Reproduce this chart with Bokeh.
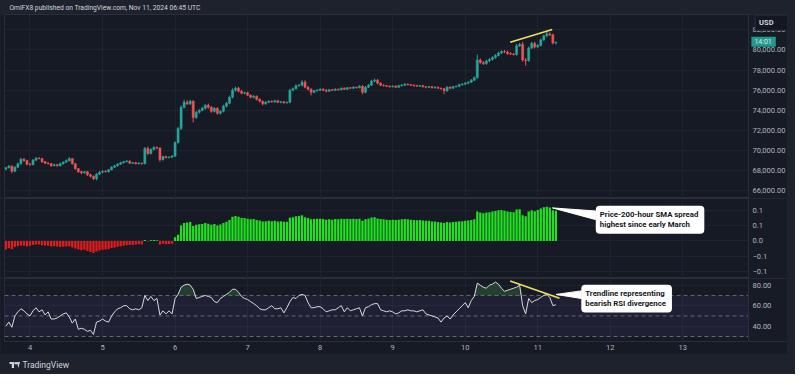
import numpy as np
from bokeh.plotting import figure
from bokeh.layouts import column
from bokeh.models import (Range1d, LinearAxis, FixedTicker, NumeralTickFormatter, Label,
                          BoxAnnotation, ColumnDataSource, Grid)
from bokeh.embed import file_html
from bokeh.resources import INLINE

# ---------------- data (hourly BTC/USD candles, Nov 3 16:00 UTC -> Nov 11 06:00 UTC) ----------------
first_candle_day = 3 + 16 / 24
first_open = 68150

close = [68300, 68450, 67950, 68350, 68700, 69150, 69000, 68650,
         68600, 69050, 69250, 69200, 68900, 68750, 68700, 68500, 68600, 68500, 68700, 68850,
         69000, 69200, 68700, 68200, 67900, 67800, 67900, 67600, 67450, 67200, 67650, 67850,
         67950, 67900, 68100, 68350, 68500, 68650, 68800, 68900, 68950, 68750, 68800, 68700,
         68750, 68700, 70200, 69700, 70100, 70300, 70250, 69100, 69400, 69300, 69350, 69450,
         70800, 72200, 74300, 74800, 74650, 74900, 73300, 73800, 74000, 74200, 74500, 74300,
         73900, 74200, 73700, 73900, 74400, 74700, 75300, 76000, 76200, 75900, 75700, 75750,
         75500, 75300, 75400, 75100, 74900, 74650, 74800, 74900, 74850, 74950, 74800, 74850,
         74750, 74800, 76000, 76150, 76450, 76500, 76800, 76300, 76100, 75800, 75950, 76000,
         76100, 76000, 75900, 76050, 76000, 76100, 76050, 76200, 76100, 76250, 76200, 76300,
         76250, 76400, 75800, 76300, 76500, 76900, 77000, 76700, 76500, 76450, 76400, 76350,
         76400, 76300, 76450, 76500, 76600, 76550, 76500, 76450, 76400, 76450, 76350, 76300,
         76350, 76250, 76300, 76200, 76150, 75950, 76300, 76200, 76350, 76400, 76550, 76600,
         76700, 76800, 77000, 77250, 79000, 78750, 78650, 78900, 79050, 79250, 79450, 79700,
         79850, 79800, 79650, 79600, 79550, 80400, 80550, 79000, 78950, 80200, 80650, 80300,
         80450, 81000, 81400, 81600, 81500, 80700, 80750]

upper_wick = [80, 120, 90, 100, 110, 130, 90, 80,
              100, 120, 90, 110, 80, 70, 90, 60, 80, 70, 100, 90, 120, 150, 80, 70, 60, 90, 80, 70, 110, 80, 100, 90,
              80, 90, 70, 100, 80, 110, 90, 80, 120, 90, 70, 80, 90, 60, 150, 200, 120, 140, 110, 80, 100, 90, 80, 120,
              120, 150, 180, 250, 200, 150, 120, 130, 110, 150, 120, 180, 130, 120, 110, 100, 150, 130, 160, 180, 150, 120, 110, 90,
              100, 90, 110, 80, 90, 70, 100, 80, 90, 110, 80, 90, 70, 80, 150, 120, 130, 110, 200, 180, 100, 90, 80, 100,
              90, 80, 100, 70, 80, 90, 60, 80, 90, 70, 80, 90, 60, 100, 80, 120, 110, 130, 150, 120, 90, 80, 70, 80,
              80, 70, 90, 100, 80, 60, 70, 80, 90, 70, 80, 60, 70, 80, 90, 70, 60, 80, 100, 90, 80, 70, 90, 100,
              100, 90, 110, 120, 550, 150, 130, 120, 140, 110, 130, 120, 100, 140, 130, 120, 110, 200, 150, 250, 180, 130, 140, 160,
              120, 150, 130, 200, 150, 120, 100]

lower_wick = [100, 80, 200, 90, 80, 100, 90, 110,
              90, 80, 100, 70, 120, 90, 80, 110, 70, 90, 80, 100, 70, 80, 100, 90, 120, 150, 100, 130, 110, 120, 150, 90,
              100, 80, 90, 70, 80, 90, 70, 100, 80, 90, 70, 80, 90, 100, 80, 120, 90, 80, 100, 200, 90, 80, 70, 100,
              80, 100, 150, 120, 130, 110, 500, 150, 120, 100, 110, 130, 150, 120, 140, 110, 100, 120, 90, 110, 130, 120, 100, 110,
              90, 100, 110, 120, 100, 150, 90, 80, 100, 90, 80, 100, 90, 80, 100, 90, 80, 100, 120, 110, 130, 300, 100, 90,
              80, 90, 100, 70, 80, 90, 100, 80, 70, 90, 80, 70, 90, 80, 200, 100, 90, 80, 100, 110, 90, 80, 70, 90,
              80, 90, 70, 80, 90, 70, 80, 90, 70, 80, 90, 100, 80, 90, 100, 80, 110, 350, 120, 100, 90, 80, 90, 100,
              90, 100, 80, 90, 100, 120, 150, 130, 110, 100, 120, 90, 100, 120, 130, 110, 100, 120, 110, 150, 500, 120, 110, 150,
              100, 110, 90, 120, 130, 150, 150]

# price - 200-hour SMA spread
spread = [-0.028, -0.024, -0.026, -0.02, -0.017, -0.015, -0.016, -0.018,
          -0.016, -0.013, -0.012, -0.012, -0.014, -0.015, -0.016, -0.018, -0.017, -0.018, -0.02, -0.019,
          -0.018, -0.017, -0.021, -0.025, -0.028, -0.03, -0.029, -0.033, -0.036, -0.039, -0.034, -0.031,
          -0.029, -0.028, -0.026, -0.023, -0.021, -0.019, -0.017, -0.016, -0.014, -0.013, -0.013, -0.012,
          -0.011, -0.012, 0.003, -0.002, 0.002, 0.003, 0.002, -0.012, -0.009, -0.011, -0.01, -0.009,
          0.012, 0.02, 0.05, 0.058, 0.06, 0.061, 0.048, 0.052, 0.054, 0.055, 0.058, 0.056,
          0.052, 0.055, 0.05, 0.053, 0.058, 0.062, 0.068, 0.078, 0.081, 0.078, 0.074, 0.074,
          0.072, 0.07, 0.071, 0.068, 0.066, 0.063, 0.064, 0.065, 0.064, 0.065, 0.063, 0.064,
          0.062, 0.062, 0.075, 0.077, 0.08, 0.081, 0.083, 0.077, 0.074, 0.07, 0.071, 0.072,
          0.072, 0.071, 0.069, 0.07, 0.069, 0.071, 0.07, 0.072, 0.071, 0.072, 0.071, 0.072,
          0.071, 0.072, 0.065, 0.07, 0.072, 0.076, 0.077, 0.073, 0.071, 0.07, 0.069, 0.068,
          0.069, 0.068, 0.069, 0.07, 0.071, 0.07, 0.069, 0.068, 0.067, 0.068, 0.066, 0.065,
          0.065, 0.063, 0.063, 0.061, 0.06, 0.058, 0.061, 0.06, 0.061, 0.062, 0.064, 0.064,
          0.065, 0.066, 0.068, 0.07, 0.095, 0.092, 0.09, 0.092, 0.093, 0.095, 0.097, 0.099,
          0.1, 0.098, 0.095, 0.094, 0.093, 0.102, 0.103, 0.083, 0.08, 0.095, 0.099, 0.096,
          0.1, 0.105, 0.109, 0.111, 0.108, 0.099, 0.098]

rsi = [40, 44, 39, 50, 54, 57, 55, 52,
       50, 55, 58, 54, 56, 51, 54, 47, 47, 48, 50, 52, 53, 49, 43, 47, 37, 38, 37, 35, 36, 32, 44, 45,
       47, 45, 44, 50, 54, 57, 58, 60, 60, 57, 56, 57, 56, 58, 70, 65, 69, 65, 67, 51, 55, 52, 55, 52,
       67, 71, 78, 80, 81, 80, 76, 67, 68, 69, 70, 69, 68, 64, 63, 67, 69, 71, 73, 76, 76, 73, 69, 67,
       66, 64, 62, 60, 57, 56, 56, 58, 60, 57, 57, 58, 53, 58, 64, 68, 67, 70, 71, 70, 63, 58, 58, 59,
       59, 57, 54, 55, 56, 56, 58, 60, 54, 58, 55, 56, 57, 58, 50, 58, 59, 61, 62, 62, 56, 55, 54, 55,
       54, 52, 53, 55, 55, 56, 55, 55, 54, 55, 56, 52, 51, 50, 49, 48, 44, 48, 50, 47, 51, 54, 57, 60,
       63, 58, 65, 69, 82, 80, 78, 77, 80, 81, 83, 81, 77, 74, 75, 76, 77, 78, 80, 60, 52, 67, 63, 65,
       66, 68, 70, 71, 68, 60, 61]

day_ticks = [4, 5, 6, 7, 8, 9, 10, 11, 12, 13]
price_ticks = [66000, 68000, 70000, 72000, 74000, 76000, 78000, 80000, 82000]
spread_ticks = [-0.1, -0.05, 0, 0.05, 0.1]
spread_tick_labels = ["\u22120.1", "\u22120.1", "0.0", "0.1", "0.1"]
rsi_ticks = [40, 60, 80]
rsi_levels = [30, 50, 70]

price_trend_days = [10.62, 11.20]
price_trend_vals = [80760, 82030]
rsi_trend_days = [10.62, 11.30]
rsi_trend_vals = [84.0, 67.3]

header_text = "OmiFX8 published on TradingView.com, Nov 11, 2024 06:45 UTC"
callout1_text = "Price-200-hour SMA spread\nhighest since early March"
callout2_text = "Trendline representing\nbearish RSI divergence"
currency_text = "USD"
countdown_text = "14:01"
footer_text = "TradingView"

n = len(close)
assert len(upper_wick) == n and len(lower_wick) == n and len(spread) == n and len(rsi) == n

# ---------------- derived ----------------
days = first_candle_day + np.arange(n) / 24
opens = np.array([first_open] + close[:-1], dtype=float)
closes = np.array(close, dtype=float)
highs = np.maximum(opens, closes) + np.array(upper_wick)
lows = np.minimum(opens, closes) - np.array(lower_wick)
candle_col = np.where(closes >= opens, "#26a69a", "#ef5350")
spread_arr = np.array(spread)
spread_col = np.where(spread_arr >= 0, "#21e221", "#e41b1b")
rsi_arr = np.array(rsi, dtype=float)

# ---------------- style / layout ----------------
OUTER = "#1e222d"
CHART = "#161a25"
AXBG = "#171b26"
GRID = "#1f2330"
SEP = "#2a2e39"
AXTXT = "#b2b5be"
FONT = "Roboto"
X0 = 3.6486          # left edge of the view (days)
AXIS_AT = 13.905     # where the price-scale column starts (days)
X_END = 14.443       # right edge of the view incl. the price-scale column
FW = 783


def pane(fh, y0, y1, bottom=0):
    p = figure(frame_width=FW, frame_height=fh, x_range=Range1d(X0, X_END), y_range=Range1d(y0, y1),
               toolbar_location=None, output_backend="svg", title=None,
               x_axis_type=None, y_axis_type=None,
               min_border_left=4, min_border_right=0, min_border_top=0, min_border_bottom=bottom,
               background_fill_color=CHART, border_fill_color=CHART,
               outline_line_color=SEP, outline_line_width=1)
    p.add_layout(Grid(dimension=0, ticker=FixedTicker(ticks=day_ticks), grid_line_color=GRID))
    return p


def right_axis(p, ticks, fmt, overrides=None):
    p.add_layout(Grid(dimension=1, ticker=FixedTicker(ticks=ticks), grid_line_color=GRID))
    ax = LinearAxis(ticker=FixedTicker(ticks=ticks), formatter=NumeralTickFormatter(format=fmt),
                    fixed_location=AXIS_AT,
                    major_label_text_color=AXTXT, major_label_text_font_size="7.5px",
                    major_label_text_font=FONT, axis_line_color=SEP,
                    major_tick_line_color=None, minor_tick_line_color=None,
                    major_tick_out=0, major_tick_in=0, major_label_standoff=4)
    if overrides:
        ax.major_label_overrides = overrides
    p.add_layout(ax, "right")
    return ax


def scale_column_bg(p):
    # background of the price-scale column (covers grid lines there)
    p.add_layout(BoxAnnotation(left=AXIS_AT, fill_color=AXBG, fill_alpha=1.0,
                               line_color=None, level="underlay"))


# header
hdr = figure(width=795, height=14, x_range=Range1d(0, 795), y_range=Range1d(0, 14),
             toolbar_location=None, output_backend="svg", title=None,
             x_axis_type=None, y_axis_type=None, min_border=0,
             background_fill_color=OUTER, border_fill_color=OUTER, outline_line_color=None)
hdr.add_layout(Label(x=5, y=6.5, text=header_text, text_baseline="middle", text_align="left",
                     text_font=FONT, text_font_size="6.7px", text_color="#d1d4dc"))

# price pane
p1 = pane(184, 65238, 83524)
right_axis(p1, price_ticks, "0,0.00")
scale_column_bg(p1)
src = ColumnDataSource(dict(x=days, o=opens, c=closes, h=highs, l=lows, col=candle_col))
p1.segment(x0="x", y0="l", x1="x", y1="h", color="col", line_width=1, source=src)
p1.vbar(x="x", top="c", bottom="o", width=0.7 / 24, fill_color="col", line_color="col",
        line_width=0.5, source=src)
p1.line(price_trend_days, price_trend_vals, line_color="#f2e05a", line_width=1.5)
p1.add_layout(Label(x=13.996, y=82714, text=currency_text,
                    text_baseline="middle", text_font=FONT, text_font_size="7.5px",
                    text_font_style="bold", text_color="#d1d4dc",
                    background_fill_color="#131722", border_line_color=SEP,
                    padding=dict(left=4, right=16, top=3, bottom=3)))
p1.add_layout(Label(x=13.945, y=80810, text=countdown_text,
                    text_baseline="middle", text_font=FONT, text_font_size="7px",
                    text_color="#c8f0ea", background_fill_color="#22998c",
                    padding=dict(left=3, right=4, top=1, bottom=1)))

# spread pane
p2 = pane(80, -0.1219, 0.1375)
right_axis(p2, spread_ticks, "0.0", dict(zip(spread_ticks, spread_tick_labels)))
scale_column_bg(p2)
src2 = ColumnDataSource(dict(x=days, top=spread_arr, col=spread_col))
p2.vbar(x="x", top="top", bottom=0, width=0.75 / 24, fill_color="col", line_color=None, source=src2)
c1_tip = (11.203, 0.107)
c1_base_x, c1_base_y = 11.80, (0.097, 0.069)
p2.patch([c1_tip[0], c1_base_x, c1_base_x], [c1_tip[1], c1_base_y[0], c1_base_y[1]],
         fill_color="white", line_color="white")
p2.add_layout(Label(x=11.80, y=0.114, text=callout1_text, text_baseline="top", text_align="left",
                    text_font=FONT, text_font_size="7.8px", text_font_style="bold",
                    text_color="#131722", text_line_height=1.1,
                    background_fill_color="white", padding=(4, 6, 4, 5), border_radius=4))

# RSI pane
p3 = pane(63, 25.1, 86.5, bottom=13)
right_axis(p3, rsi_ticks, "0.00")
p3.add_layout(BoxAnnotation(bottom=rsi_levels[0], top=rsi_levels[2], right=AXIS_AT,
                            fill_color="#7e57c2", fill_alpha=0.1, line_color=None, level="underlay"))
p3.segment(x0=X0, x1=AXIS_AT, y0=rsi_levels, y1=rsi_levels, line_color="#787b86",
           line_dash="4 3", line_width=1, line_alpha=0.8)
p3.varea(x=days, y1=np.full(n, rsi_levels[2]), y2=np.maximum(rsi_arr, rsi_levels[2]),
         fill_color="#4caf50", fill_alpha=0.25)
p3.line(days, rsi_arr, line_color="#d8d9de", line_width=1)
p3.line(rsi_trend_days, rsi_trend_vals, line_color="#f2e05a", line_width=1.5)
scale_column_bg(p3)
c2_tip = (11.253, 71.0)
c2_base_x, c2_base_y = 11.60, (74.4, 67.0)
p3.patch([c2_tip[0], c2_base_x, c2_base_x], [c2_tip[1], c2_base_y[0], c2_base_y[1]],
         fill_color="white", line_color="white")
p3.add_layout(Label(x=11.60, y=80.5, text=callout2_text, text_baseline="top", text_align="left",
                    text_font=FONT, text_font_size="7.8px", text_font_style="bold",
                    text_color="#131722", text_line_height=1.1,
                    background_fill_color="white", padding=(4, 6, 4, 5), border_radius=4))
xax = LinearAxis(ticker=FixedTicker(ticks=day_ticks), formatter=NumeralTickFormatter(format="0"),
                 major_label_text_color=AXTXT, major_label_text_font_size="7.5px",
                 major_label_text_font=FONT, axis_line_color=SEP,
                 major_tick_line_color=None, minor_tick_line_color=None,
                 major_tick_out=0, major_tick_in=0, major_label_standoff=3)
p3.add_layout(xax, "below")

# footer
ftr = figure(width=795, height=20, x_range=Range1d(0, 795), y_range=Range1d(0, 20),
             toolbar_location=None, output_backend="svg", title=None,
             x_axis_type=None, y_axis_type=None, min_border=0,
             background_fill_color=OUTER, border_fill_color=OUTER, outline_line_color=None)
# TradingView logo mark (decoration)
ftr.quad(left=[5.0, 7.3], right=[10.0, 9.6], top=[12.5, 12.5], bottom=[10.5, 6.5],
         fill_color="#d1d4dc", line_color=None)
ftr.scatter([11.6], [11.3], size=2.6, fill_color="#d1d4dc", line_color=None)
ftr.patch([12.6, 15.6, 13.9], [12.5, 12.5, 6.5], fill_color="#d1d4dc", line_color=None)
ftr.add_layout(Label(x=18, y=9.5, text=footer_text, text_baseline="middle", text_align="left",
                     text_font=FONT, text_font_size="8.5px", text_color="#d1d4dc"))

layout = column(hdr, p1, p2, p3, ftr, styles={"background-color": OUTER})

open("out.html", "w").write(file_html(layout, INLINE))
